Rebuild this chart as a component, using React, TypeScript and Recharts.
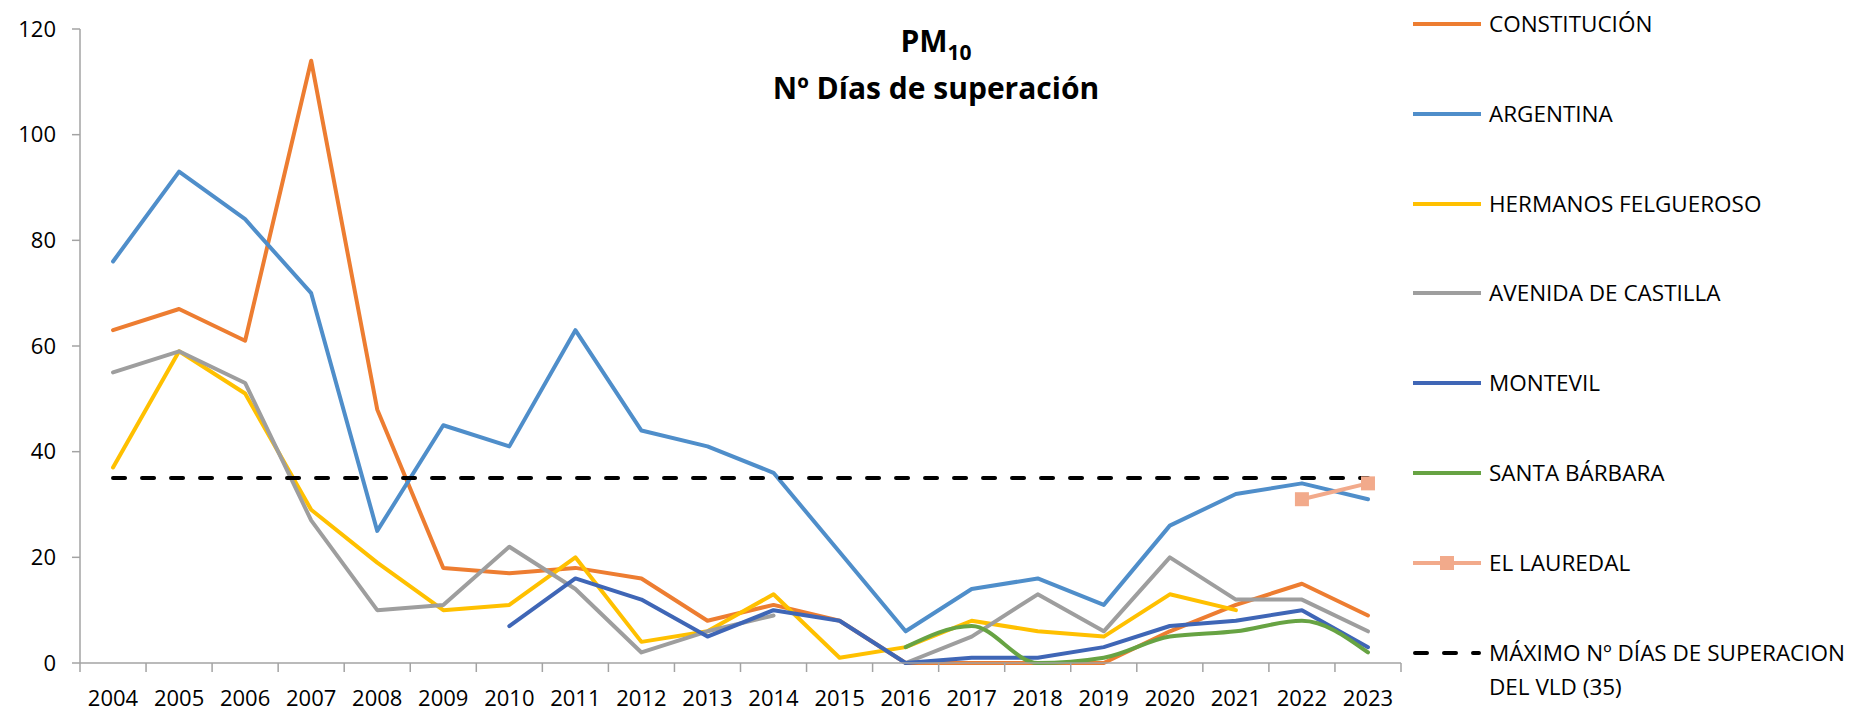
import React from 'react';
import { LineChart, Line, XAxis, YAxis } from 'recharts';

const YEARS = [2004, 2005, 2006, 2007, 2008, 2009, 2010, 2011, 2012, 2013, 2014, 2015, 2016, 2017, 2018, 2019, 2020, 2021, 2022, 2023];

const CONSTITUCION = [63, 67, 61, 114, 48, 18, 17, 18, 16, 8, 11, 8, 0, 0, 0, 0, 6, 11, 15, 9];
const ARGENTINA = [76, 93, 84, 70, 25, 45, 41, 63, 44, 41, 36, 21, 6, 14, 16, 11, 26, 32, 34, 31];
const FELGUEROSO = [37, 59, 51, 29, 19, 10, 11, 20, 4, 6, 13, 1, 3, 8, 6, 5, 13, 10, null, null];
const CASTILLA = [55, 59, 53, 27, 10, 11, 22, 14, 2, 6, 9, null, 0, 5, 13, 6, 20, 12, 12, 6];
const MONTEVIL = [null, null, null, null, null, null, 7, 16, 12, 5, 10, 8, 0, 1, 1, 3, 7, 8, 10, 3];
const SANTA_BARBARA = [null, null, null, null, null, null, null, null, null, null, null, null, 3, 7, 0, 1, 5, 6, 8, 2];
const LAUREDAL = [null, null, null, null, null, null, null, null, null, null, null, null, null, null, null, null, null, null, 31, 34];
const VLD = [35, 35, 35, 35, 35, 35, 35, 35, 35, 35, 35, 35, 35, 35, 35, 35, 35, 35, 35, 35];

const Y_TICKS = [0, 20, 40, 60, 80, 100, 120];

const FONT = '"Open Sans", "Liberation Sans", sans-serif';
const AXIS = '#a3a3a3';
const DASH = '12 17';

const SERIES = [
  { key: 'constitucion', name: 'CONSTITUCIÓN', color: '#ED7D31', values: CONSTITUCION },
  { key: 'argentina', name: 'ARGENTINA', color: '#4F8ECA', values: ARGENTINA },
  { key: 'felgueroso', name: 'HERMANOS FELGUEROSO', color: '#FFC000', values: FELGUEROSO },
  { key: 'castilla', name: 'AVENIDA DE CASTILLA', color: '#9E9E9E', values: CASTILLA },
  { key: 'montevil', name: 'MONTEVIL', color: '#3F66B6', values: MONTEVIL },
  { key: 'santabarbara', name: 'SANTA BÁRBARA', color: '#67A343', values: SANTA_BARBARA, smooth: true },
  { key: 'lauredal', name: 'EL LAUREDAL', color: '#F2AA8B', values: LAUREDAL, square: true },
  { key: 'vld', name: 'MÁXIMO Nº DÍAS DE SUPERACION DEL VLD (35)', color: '#000000', values: VLD, dashed: true },
];

const data = YEARS.map((year, i) => {
  const row: Record<string, number | null> = { year };
  SERIES.forEach((s) => {
    row[s.key] = s.values[i];
  });
  return row;
});

// labels sit on the years, tick marks sit between them
const X_TICKS = [...YEARS.flatMap((y) => [y - 0.5, y]), YEARS[YEARS.length - 1] + 0.5];

function YearTick(props: any) {
  const { x, y, payload } = props;
  const v = payload.value;
  if (Number.isInteger(v)) {
    return (
      <text x={x} y={y + 43} textAnchor="middle" fontFamily={FONT} fontSize={22} fill="#000">
        {v}
      </text>
    );
  }
  return <line x1={x} x2={x} y1={y} y2={y + 9} stroke={AXIS} strokeWidth={1.5} />;
}

function SquareDot(props: any) {
  const { cx, cy, index, fill } = props;
  if (cx == null || cy == null) return <g key={index} />;
  return <rect key={index} x={cx - 7} y={cy - 7} width={14} height={14} fill={fill} />;
}

function Marker({ s }: { s: (typeof SERIES)[number] }) {
  return (
    <svg width={68} height={30} style={{ flex: 'none' }}>
      <line
        x1={s.dashed ? 2 : 0}
        x2={s.dashed ? 66 : 68}
        y1={15}
        y2={15}
        stroke={s.color}
        strokeWidth={4}
        strokeDasharray={s.dashed ? DASH : undefined}
        strokeLinecap={s.dashed ? 'round' : 'butt'}
      />
      {s.square && <rect x={27} y={8} width={14} height={14} fill={s.color} />}
    </svg>
  );
}

export default function App() {
  return (
    <div style={{ position: 'absolute', left: 0, top: 0, width: 1867, height: 712, background: '#fff' }}>
      <LineChart width={1867} height={712} data={data} margin={{ top: 29, right: 466, bottom: 0, left: 0 }}>
        <XAxis
          dataKey="year"
          type="number"
          domain={[2003.5, 2023.5]}
          ticks={X_TICKS}
          interval={0}
          allowDataOverflow
          tickSize={0}
          tickMargin={0}
          tickLine={false}
          tick={(p: any) => <YearTick {...p} />}
          height={49}
          axisLine={{ stroke: AXIS, strokeWidth: 1.5 }}
        />
        <YAxis
          domain={[0, 120]}
          ticks={Y_TICKS}
          interval={0}
          width={80}
          tickSize={8}
          tickMargin={16}
          tickLine={{ stroke: AXIS, strokeWidth: 1.5 }}
          axisLine={{ stroke: AXIS, strokeWidth: 1.5 }}
          tick={{ fontFamily: FONT, fontSize: 22, fill: '#000' }}
        />
        {SERIES.map((s) => (
          <Line
            key={s.key}
            dataKey={s.key}
            name={s.name}
            type={s.smooth ? 'monotone' : 'linear'}
            stroke={s.color}
            strokeWidth={4}
            strokeDasharray={s.dashed ? DASH : undefined}
            strokeLinecap="round"
            strokeLinejoin="round"
            dot={s.square ? (p: any) => <SquareDot {...p} fill={s.color} /> : false}
            activeDot={false}
            isAnimationActive={false}
          />
        ))}
      </LineChart>

      <div
        style={{
          position: 'absolute',
          left: 936,
          top: 19,
          transform: 'translateX(-50%)',
          textAlign: 'center',
          whiteSpace: 'nowrap',
          fontFamily: FONT,
          fontWeight: 700,
          fontSize: 30,
          lineHeight: '44px',
          color: '#000',
        }}
      >
        <div>
          PM<span style={{ fontSize: 21, position: 'relative', top: 8 }}>10</span>
        </div>
        <div>Nº Días de superación</div>
      </div>

      {SERIES.map((s, i) => (
        <div
          key={s.key}
          style={{
            position: 'absolute',
            left: 1413,
            top: 24 + i * 89.8 - 17,
            display: 'flex',
            alignItems: 'flex-start',
            fontFamily: FONT,
            fontSize: 22.5,
            lineHeight: '34px',
            color: '#000',
            width: 454,
          }}
        >
          <div style={{ height: 34, display: 'flex', alignItems: 'center' }}>
            <Marker s={s} />
          </div>
          <div style={{ marginLeft: 8, width: 376 }}>
            {s.dashed ? (
              <>
                <div style={{ whiteSpace: 'nowrap' }}>MÁXIMO Nº DÍAS DE SUPERACION</div>
                <div>DEL VLD (35)</div>
              </>
            ) : (
              s.name
            )}
          </div>
        </div>
      ))}
    </div>
  );
}
